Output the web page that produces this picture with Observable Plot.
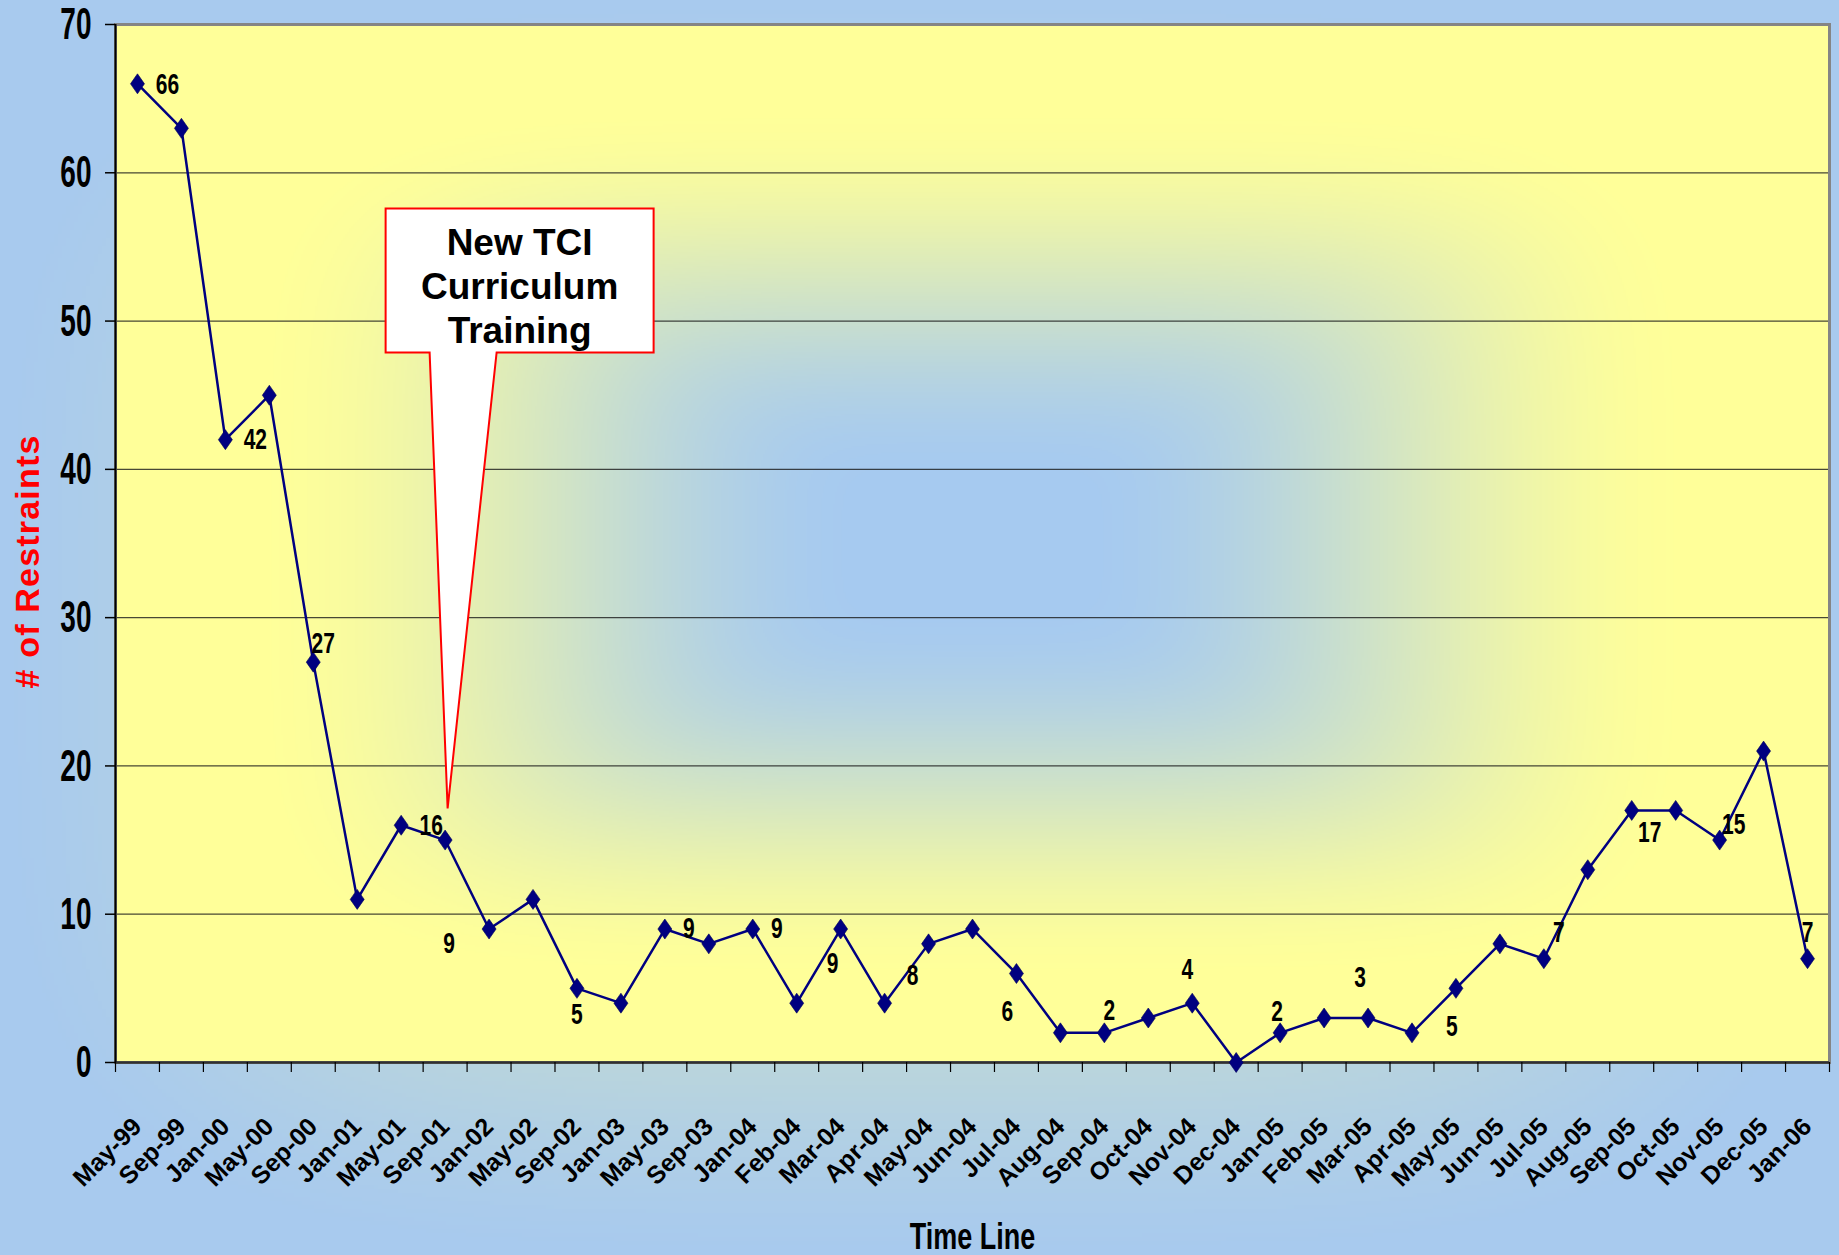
<!DOCTYPE html>
<html>
<head>
<meta charset="utf-8">
<script src="https://cdn.jsdelivr.net/npm/d3@7"></script>
<script src="https://cdn.jsdelivr.net/npm/@observablehq/plot@0.6"></script>
<style>
  html, body { margin: 0; padding: 0; overflow: hidden; background: #a8caee; }
  #chart svg { display: block; }
</style>
</head>
<body>
<div id="chart"></div>
<script>
// ---------------- data ----------------
const months = ["May-99","Sep-99","Jan-00","May-00","Sep-00","Jan-01","May-01","Sep-01","Jan-02","May-02","Sep-02","Jan-03","May-03","Sep-03","Jan-04","Feb-04","Mar-04","Apr-04","May-04","Jun-04","Jul-04","Aug-04","Sep-04","Oct-04","Nov-04","Dec-04","Jan-05","Feb-05","Mar-05","Apr-05","May-05","Jun-05","Jul-05","Aug-05","Sep-05","Oct-05","Nov-05","Dec-05","Jan-06"];
const restraints = [66,63,42,45,27,11,16,15,9,11,5,4,9,8,9,4,9,4,8,9,6,2,2,3,4,0,2,3,3,2,5,8,7,13,17,17,15,21,7];
const yTicks = [0,10,20,30,40,50,60,70];
const labelledMonths = ["May-99","Jan-00","Sep-00","May-01","Jan-02","Sep-02","May-03","Jan-04","Mar-04","May-04","Jul-04","Sep-04","Nov-04","Jan-05","Mar-05","May-05","Jul-05","Sep-05","Nov-05","Jan-06"];
const calloutLines = ["New TCI","Curriculum","Training"];
const calloutMonth = "Sep-01";
const calloutValue = 17.1;
const xTitle = "Time Line";
const yTitle = "# of Restraints";

// ---------------- style / layout ----------------
const W = 1839, H = 1255;
const mL = 115, mR = 10, mT = 24, mB = 193;
const step = (W - mL - mR) / months.length;
// label offsets in pixels (dx, dy), same order as labelledMonths
const labelOffsets = [[30,0],[30,-1],[10,-19],[30,0],[-40,14],[0,26],[24,-1],[24,-1],[-8,34],[-16,31],[-9,38],[5,-23],[-5,-34],[-3,-22],[-8,-41],[-4,38],[15,-27],[18,22],[14,-16],[0,-27]];
const FONT = "'Liberation Sans', Arial, sans-serif";
const NAVY = "#000080";

const data = months.map((m, i) => ({month: m, value: restraints[i]}));

// rectangular "from centre" gradients painted on canvas
function gradientImage(w, h, fn) {
  const c = document.createElement("canvas");
  c.width = w; c.height = h;
  const ctx = c.getContext("2d");
  const img = ctx.createImageData(w, h);
  for (let y = 0; y < h; y++) {
    const ny = ((y + 0.5) / h) * 2 - 1;
    for (let x = 0; x < w; x++) {
      const nx = ((x + 0.5) / w) * 2 - 1;
      const [r, g, b] = fn(nx, ny);
      const k = (y * w + x) * 4;
      img.data[k] = r; img.data[k+1] = g; img.data[k+2] = b; img.data[k+3] = 255;
    }
  }
  ctx.putImageData(img, 0, 0);
  return c.toDataURL();
}
const BLUE = [166, 202, 240], YELLOW = [255, 255, 153], OUTER = [168, 202, 238];
const mix = (a, b, f) => a.map((v, i) => Math.round(v + (b[i] - v) * f));
const smooth = (e0, e1, t) => { const s = Math.min(1, Math.max(0, (t - e0) / (e1 - e0))); return s * s * (3 - 2 * s); };
const plotBg = gradientImage(857, 519, (nx, ny) => {
  const t = Math.pow(Math.pow(Math.abs(nx), 5) + Math.pow(Math.abs(ny), 5), 1/5);
  return mix(BLUE, YELLOW, smooth(0.12, 0.85, t));
});
const outerBg = gradientImage(460, 314, (nx, ny) => {
  const t = Math.pow(Math.pow(Math.abs(nx), 4) + Math.pow(Math.abs(ny), 4), 1/4);
  const f = Math.pow(Math.max(0, 1 - t), 1.3);
  return mix(OUTER, YELLOW, f);
});

// diamond marker (taller than wide)
const diamond = {draw(ctx) { ctx.moveTo(0, -10); ctx.lineTo(7, 0); ctx.lineTo(0, 10); ctx.lineTo(-7, 0); ctx.closePath(); }};

const labelMarks = labelledMonths.map((m, k) =>
  Plot.text(data.filter(d => d.month === m), {
    x: "month", y: "value", text: d => String(d.value),
    dx: labelOffsets[k][0], dy: labelOffsets[k][1],
    fontSize: 21, fontWeight: "bold", fill: "#000", className: "dlabel",
    textAnchor: "middle", lineAnchor: "middle"
  })
);

const plot = Plot.plot({
  width: W, height: H,
  marginLeft: mL, marginRight: mR, marginTop: mT, marginBottom: mB,
  style: {fontFamily: FONT, background: "transparent", overflow: "visible"},
  x: {type: "point", domain: months, padding: 0.5, label: null},
  y: {domain: [0, 70], label: null},
  marks: [
    Plot.image([0], {frameAnchor: "middle", src: plotBg, width: W - mL - mR, height: H - mT - mB, preserveAspectRatio: "none"}),
    Plot.gridY(yTicks.filter(v => v > 0 && v < 70), {stroke: "#1a1a1a", strokeOpacity: 0.8, strokeWidth: 1.2}),
    Plot.frame({stroke: "#858585", strokeWidth: 3}),
    Plot.ruleY([0], {stroke: "#303030", strokeWidth: 2.5}),
    Plot.ruleX([months[0]], {dx: -step / 2, y1: 0, y2: 70, stroke: "#000", strokeWidth: 2}),
    Plot.axisY({ticks: yTicks, tickSize: 10, tickPadding: 14, fontSize: 28, fontWeight: "bold", stroke: "#000", fill: "#000", strokeWidth: 1.5, label: null}),
    Plot.axisX({ticks: months, tickSize: 10, tickFormat: () => "", dx: -step / 2, stroke: "#000", strokeWidth: 1.2, label: null}),
    Plot.axisX({ticks: [months[months.length - 1]], tickSize: 10, tickFormat: () => "", dx: step / 2, stroke: "#000", strokeWidth: 1.2, label: null}),
    Plot.axisX({ticks: months, tickSize: 0, tickPadding: 60, tickRotate: -45, textAnchor: "end", lineAnchor: "middle", fontSize: 25, fontWeight: "bold", fill: "#000", label: null}),
    Plot.line(data, {x: "month", y: "value", stroke: NAVY, strokeWidth: 2.5}),
    Plot.dot(data, {x: "month", y: "value", symbol: diamond, fill: NAVY, stroke: "#00005a", strokeWidth: 0.6, r: 6}),
    ...labelMarks,
    Plot.text([xTitle], {frameAnchor: "bottom", dy: 183, textAnchor: "middle", lineAnchor: "bottom", fontSize: 27, fontWeight: "bold", fill: "#000", className: "xtitle"}),
    Plot.text([yTitle], {frameAnchor: "left", rotate: -90, dx: -77, dy: 18, textAnchor: "middle", lineAnchor: "bottom", fontSize: 34, fontWeight: "bold", fill: "#ff0000", className: "ytitle"})
  ]
});

plot.style.background = `url(${outerBg}) 0 0 / 100% 100% no-repeat`;
document.getElementById("chart").appendChild(plot);
plot.querySelectorAll("g.ytitle text").forEach(el => el.setAttribute("letter-spacing", "1.2"));

// ---------------- callout (anchored through the scales) ----------------
const xs = plot.scale("x"), ys = plot.scale("y");
const tx = xs.apply(calloutMonth), ty = ys.apply(calloutValue);
const svg = d3.select(plot);
const box = {l: tx - 59, r: tx + 209, t: ty - 600, b: ty - 456};
const pathD = `M${box.l},${box.t}H${box.r}V${box.b}H${tx + 52}L${tx + 3},${ty}L${tx - 15},${box.b}H${box.l}Z`;
const call = svg.append("g").attr("class", "callout");
call.append("path").attr("d", pathD).attr("fill", "#fff").attr("stroke", "#ff0000").attr("stroke-width", 2).attr("stroke-linejoin", "miter");
call.selectAll("text").data(calloutLines).join("text")
  .attr("x", tx + 75).attr("y", (d, i) => ty - 553 + i * 44)
  .attr("text-anchor", "middle").attr("font-family", FONT).attr("font-weight", "bold")
  .attr("font-size", 37).attr("fill", "#000").text(d => d);

// ---------------- vertical stretch of condensed-looking texts ----------------
const NS = "http://www.w3.org/2000/svg";
function stretch(el, s) {
  const g = document.createElementNS(NS, "g");
  el.parentNode.insertBefore(g, el);
  g.appendChild(el);
  const b = g.getBBox();
  const cx = b.x + b.width / 2, cy = b.y + b.height / 2;
  g.setAttribute("transform", `translate(${cx},${cy}) scale(1,${s}) translate(${-cx},${-cy})`);
}
plot.querySelectorAll('g[aria-label="y-axis tick label"] text').forEach(el => stretch(el, 1.6));
plot.querySelectorAll('g.dlabel text').forEach(el => stretch(el, 1.42));
plot.querySelectorAll('g.xtitle text').forEach(el => stretch(el, 1.4));
</script>
</body>
</html>
